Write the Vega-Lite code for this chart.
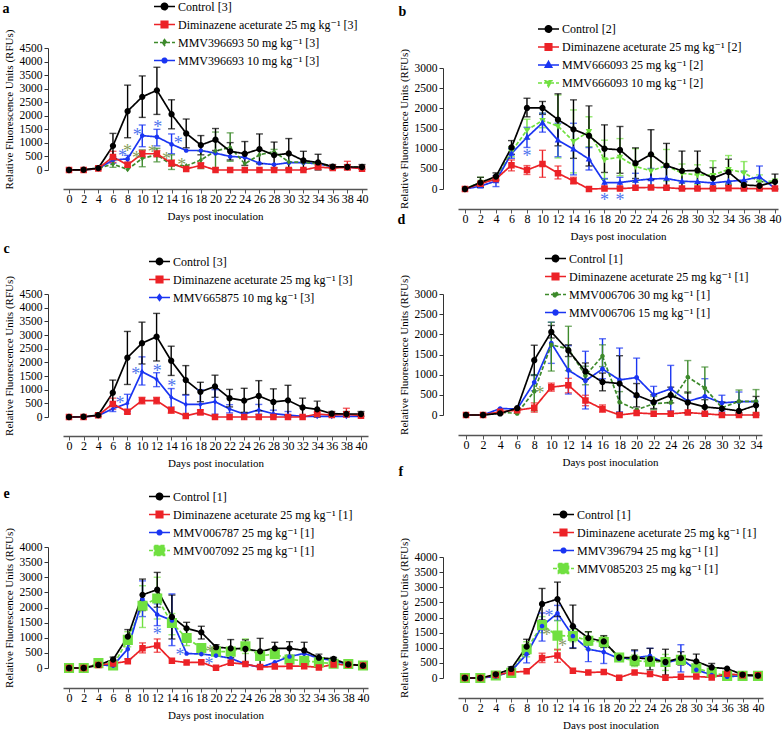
{
"$schema": "https://vega.github.io/schema/vega-lite/v6.json",
"background": "white",
"padding": {"left": 2, "top": -12, "right": 0, "bottom": 0},
"config": {
  "font": "Liberation Serif, Times New Roman, Times, DejaVu Serif, serif",
  "view": {"stroke": null},
  "axis": {"grid": false, "labelColor": "#000000", "titleColor": "#000000", "titleFontWeight": "normal", "labelFont": "Liberation Serif, Times New Roman, Times, DejaVu Serif, serif", "titleFont": "Liberation Serif, Times New Roman, Times, DejaVu Serif, serif"},
  "axisX": {"domainColor": "#555555", "domainWidth": 1.6, "tickColor": "#555555", "tickSize": 4, "tickWidth": 1, "labelPadding": 0.5, "titlePadding": 5.5, "labelFontSize": 12, "titleFontSize": 11, "labelOverlap": false, "labelFlush": false, "labelAngle": 0},
  "axisY": {"domainColor": "#333333", "domainWidth": 1, "tickColor": "#333333", "tickSize": 4, "labelPadding": 2, "titlePadding": 5, "labelFontSize": 11.5, "titleFontSize": 11, "labelOverlap": false},
  "legend": {"labelFont": "Liberation Serif, Times New Roman, Times, DejaVu Serif, serif", "labelFontSize": 12, "labelColor": "#000000", "labelLimit": 400, "padding": 0, "symbolSize": 441, "symbolStrokeWidth": 1.6, "labelOffset": 2, "symbolOpacity": 1}
},
"datasets": {
"series": [
 {"panel":"a","series":"MMV396693 10 mg kg⁻¹ [3]","day":[0,2,4,6,8,10,12,14,16,18,20,22,24,26,28,30,32,34,36,38,40],"rfu":[0,0,50,370,410,1270,1220,950,720,720,620,500,470,250,200,270,270,230,120,100,80],"lo":[null,null,null,250,280,860,890,600,null,null,null,null,null,null,null,null,null,null,null,null,null],"hi":[null,null,null,480,540,1660,1500,1330,null,null,null,null,null,null,null,null,null,null,null,null,null]},
 {"panel":"a","series":"MMV396693 50 mg kg⁻¹ [3]","day":[0,2,4,6,8,10,12,14,16,18,20,22,24,26,28,30,32,34,36,38,40],"rfu":[0,0,60,220,20,430,560,190,150,370,700,840,230,560,680,300,280,240,120,120,100],"lo":[null,null,null,100,null,120,300,20,null,50,80,320,null,null,600,null,null,null,null,null,null],"hi":[null,null,null,370,null,740,800,560,null,700,1400,1370,null,null,760,null,null,null,null,null,null]},
 {"panel":"a","series":"Diminazene aceturate 25 mg kg⁻¹ [3]","day":[0,2,4,6,8,10,12,14,16,18,20,22,24,26,28,30,32,34,36,38,40],"rfu":[0,0,60,480,190,600,600,250,40,170,0,0,0,0,0,0,0,110,70,100,50],"lo":[null,null,null,280,120,480,480,140,null,80,null,null,null,null,null,null,null,40,null,0,null],"hi":[null,null,null,690,260,720,720,370,null,260,null,null,null,null,null,null,null,180,null,320,null]},
 {"panel":"a","series":"Control [3]","day":[0,2,4,6,8,10,12,14,16,18,20,22,24,26,28,30,32,34,36,38,40],"rfu":[0,10,70,890,2170,2700,2940,2060,1350,920,1120,690,600,770,550,610,350,280,120,110,110],"lo":[null,null,20,420,1190,1940,2050,1520,820,560,720,370,170,230,80,60,20,0,40,30,30],"hi":[null,null,120,1350,3130,3470,3790,2590,1880,1270,1530,1010,1050,1330,1030,1160,690,580,200,200,200]},

 {"panel":"b","series":"MMV666093 10 mg kg⁻¹ [2]","day":[0,2,4,6,8,10,12,14,16,18,20,22,24,26,28,30,32,34,36,38,40],"rfu":[0,170,250,930,1460,1700,1560,1180,1430,730,790,560,450,580,390,350,340,490,400,180,200],"lo":[null,60,null,800,1240,1520,770,400,1050,240,330,170,60,200,160,120,0,150,100,0,null],"hi":[null,290,null,1050,1730,1880,2330,1960,1790,1210,1250,1000,850,980,620,600,700,830,680,350,null]},
 {"panel":"b","series":"MMV666093 25 mg kg⁻¹ [2]","day":[0,2,4,6,8,10,12,14,16,18,20,22,24,26,28,30,32,34,36,38,40],"rfu":[0,70,200,880,1280,1640,1210,990,740,160,160,210,250,260,190,180,150,190,220,300,20],"lo":[null,null,60,760,1030,1410,800,350,470,50,50,40,0,0,null,null,null,null,0,0,null],"hi":[null,null,330,1000,1530,1880,1630,1630,1030,260,290,390,510,540,null,null,null,null,440,570,null]},
 {"panel":"b","series":"Diminazene aceturate 25 mg kg⁻¹ [2]","day":[0,2,4,6,8,10,12,14,16,18,20,22,24,26,28,30,32,34,36,38,40],"rfu":[0,130,250,590,470,620,390,200,0,10,10,30,40,30,10,10,10,20,10,10,10],"lo":[null,null,null,450,360,290,250,130,null,null,null,null,null,null,null,null,null,null,null,null,null],"hi":[null,null,null,720,580,960,570,290,null,null,null,null,null,null,null,null,null,null,null,null,null]},
 {"panel":"b","series":"Control [2]","day":[0,2,4,6,8,10,12,14,16,18,20,22,24,26,28,30,32,34,36,38,40],"rfu":[0,160,310,1030,2010,2010,1720,1480,1320,1000,970,640,860,580,450,460,270,420,100,80,180],"lo":[null,40,220,860,1790,1850,1070,760,570,410,390,260,230,30,0,0,20,100,20,0,0],"hi":[null,290,400,1200,2250,2170,2360,2210,2060,1590,1550,1020,1470,1130,940,940,530,740,180,180,370]},

 {"panel":"c","series":"MMV665875 10 mg kg⁻¹ [3]","day":[0,2,4,6,8,10,12,14,16,18,20,22,24,26,28,30,32,34,36,38,40],"rfu":[0,0,50,300,500,1660,1380,720,460,460,560,290,110,260,120,70,20,20,20,20,20],"lo":[null,null,null,200,200,1170,1110,290,70,100,100,150,null,100,0,0,null,null,null,null,null],"hi":[null,null,null,420,830,2200,1620,1040,800,1000,1000,450,null,460,250,200,null,null,null,null,null]},
 {"panel":"c","series":"Diminazene aceturate 25 mg kg⁻¹ [3]","day":[0,2,4,6,8,10,12,14,16,18,20,22,24,26,28,30,32,34,36,38,40],"rfu":[0,0,60,480,190,600,600,250,40,170,0,0,0,0,0,0,0,110,70,100,50],"lo":[null,null,null,280,120,480,480,140,null,80,null,null,null,null,null,null,null,40,null,0,null],"hi":[null,null,null,690,260,720,720,370,null,260,null,null,null,null,null,null,null,180,null,320,null]},
 {"panel":"c","series":"Control [3]","day":[0,2,4,6,8,10,12,14,16,18,20,22,24,26,28,30,32,34,36,38,40],"rfu":[0,10,70,890,2170,2700,2940,2060,1350,920,1120,690,600,770,550,610,350,280,120,110,110],"lo":[null,null,20,420,1190,1940,2050,1520,820,560,720,370,170,230,80,60,20,0,40,30,30],"hi":[null,null,120,1350,3130,3470,3790,2590,1880,1270,1530,1010,1050,1330,1030,1160,690,580,200,200,200]},

 {"panel":"d","series":"MMV006706 15 mg kg⁻¹ [1]","day":[0,2,4,6,8,10,12,14,16,18,20,22,24,26,28,30,32,34],"rfu":[0,0,160,150,810,1780,1110,850,1140,870,930,500,650,340,460,300,330,330],"lo":[null,null,null,null,600,1280,520,150,900,80,450,300,100,null,0,100,50,null],"hi":[null,null,null,null,1000,2300,1720,1580,1890,1660,1410,710,1230,null,900,490,570,null]},
 {"panel":"d","series":"MMV006706 30 mg kg⁻¹ [1]","day":[0,2,4,6,8,10,12,14,16,18,20,22,24,26,28,30,32,34],"rfu":[0,0,70,40,590,1740,1640,980,1460,320,130,280,310,940,670,180,340,340],"lo":[null,null,null,null,100,1090,1100,750,1200,50,null,130,null,540,180,null,50,50],"hi":[null,null,null,null,1000,2300,2200,1210,1740,580,null,460,null,1350,1190,null,620,630]},
 {"panel":"d","series":"Diminazene aceturate 25 mg kg⁻¹ [1]","day":[0,2,4,6,8,10,12,14,16,18,20,22,24,26,28,30,32,34],"rfu":[0,0,80,120,180,690,740,360,150,0,50,30,30,60,30,0,0,0],"lo":[null,null,null,null,70,590,550,230,70,null,null,null,null,null,null,null,null,null],"hi":[null,null,null,null,300,790,910,490,250,null,null,null,null,null,null,null,null,null]},
 {"panel":"d","series":"Control [1]","day":[0,2,4,6,8,10,12,14,16,18,20,22,24,26,28,30,32,34],"rfu":[0,0,40,170,1360,2060,1600,1080,820,780,490,320,490,310,200,160,100,240],"lo":[null,null,null,null,980,1910,1450,880,600,50,200,160,300,50,50,20,0,0],"hi":[null,null,null,null,1730,2220,1740,1290,1040,1470,780,500,690,570,380,320,330,460]},

 {"panel":"e","series":"MMV007092 25 mg kg⁻¹ [1]","day":[0,2,4,6,8,10,12,14,16,18,20,22,24,26,28,30,32,34,36,38,40],"rfu":[0,0,160,80,930,2060,2300,1490,990,660,540,540,720,400,460,280,240,190,140,130,80],"lo":[null,null,null,null,700,1340,1620,1100,740,450,null,null,480,null,null,null,null,null,null,null,null],"hi":[null,null,null,null,1200,2720,3000,1800,1290,800,null,null,960,null,null,null,null,null,null,null,null]},
 {"panel":"e","series":"MMV006787 25 mg kg⁻¹ [1]","day":[0,2,4,6,8,10,12,14,16,18,20,22,24,26,28,30,32,34,36,38,40],"rfu":[0,0,100,80,630,2280,1770,1570,480,460,410,320,130,20,190,380,480,320,250,110,90],"lo":[null,null,null,null,300,1700,1400,740,null,null,null,null,null,null,null,null,null,null,null,null,null],"hi":[null,null,null,null,900,2880,2120,2450,null,null,null,null,null,null,null,null,null,null,null,null,null]},
 {"panel":"e","series":"Diminazene aceturate 25 mg kg⁻¹ [1]","day":[0,2,4,6,8,10,12,14,16,18,20,22,24,26,28,30,32,34,36,38,40],"rfu":[0,0,100,150,220,650,740,240,180,190,10,170,130,30,50,60,60,20,120,110,80],"lo":[null,null,null,null,null,500,520,null,null,null,null,null,null,null,null,null,null,null,null,null,null],"hi":[null,null,null,null,null,830,960,null,null,null,null,null,null,null,null,null,null,null,null,null,null]},
 {"panel":"e","series":"Control [1]","day":[0,2,4,6,8,10,12,14,16,18,20,22,24,26,28,30,32,34,36,38,40],"rfu":[0,0,100,280,1040,2420,2590,1690,1310,1180,690,650,630,550,650,650,580,340,300,120,80],"lo":[null,null,null,200,790,1900,2010,960,1120,960,600,340,190,80,460,420,300,220,250,null,null],"hi":[null,null,null,360,1270,2940,3160,2410,1510,1380,770,940,930,980,850,870,850,460,350,null,null]},

 {"panel":"f","series":"MMV085203 25 mg kg⁻¹ [1]","day":[0,2,4,6,8,10,12,14,16,18,20,22,24,26,28,30,34,36,38,40],"rfu":[0,0,80,170,950,1750,1400,1390,1230,1190,680,570,540,530,600,320,180,70,70,70],"lo":[null,null,null,null,700,1500,920,1200,950,1000,null,380,null,250,null,null,null,null,null,null],"hi":[null,null,null,null,1200,2030,1900,1600,1530,1380,null,760,null,780,null,null,null,null,null,null]},
 {"panel":"f","series":"MMV396794 25 mg kg⁻¹ [1]","day":[0,2,4,6,8,10,12,14,16,18,20,22,24,26,28,30,34,36,38,40],"rfu":[0,0,50,220,790,1720,2140,1390,950,860,640,670,730,490,640,270,100,40,80,70],"lo":[null,null,null,null,500,1220,1900,1000,540,480,null,500,480,null,200,null,null,null,null,null],"hi":[null,null,null,null,1050,2150,2400,1700,1310,1230,null,900,980,null,1100,null,null,null,null,null]},
 {"panel":"f","series":"Diminazene aceturate 25 mg kg⁻¹ [1]","day":[0,2,4,6,8,10,12,14,16,18,20,22,24,26,28,30,34,36,38,40],"rfu":[0,0,100,190,220,660,740,240,180,200,10,180,130,10,40,50,20,140,90,90],"lo":[null,null,null,null,null,510,520,null,null,null,null,null,null,null,null,null,null,null,null,null],"hi":[null,null,null,null,null,820,950,null,null,null,null,null,null,null,null,null,null,null,null,null]},
 {"panel":"f","series":"Control [1]","day":[0,2,4,6,8,10,12,14,16,18,20,22,24,26,28,30,34,36,38,40],"rfu":[0,0,120,300,1040,2450,2610,1710,1320,1210,680,670,630,530,660,550,350,310,110,80],"lo":[null,null,null,230,790,1920,2030,980,1100,1020,600,420,270,100,430,300,230,null,null,null],"hi":[null,null,null,370,1280,2960,3170,2410,1530,1400,760,930,980,950,870,790,480,null,null,null]}
],
"stars": [
 {"panel":"a","tone":"blue","day":7.3,"rfu":620},
 {"panel":"a","tone":"blue","day":9.3,"rfu":1390},
 {"panel":"a","tone":"blue","day":12.1,"rfu":1710},
 {"panel":"a","tone":"blue","day":14.9,"rfu":1120},
 {"panel":"a","tone":"green","day":8.0,"rfu":820},
 {"panel":"a","tone":"green","day":9.2,"rfu":560},
 {"panel":"a","tone":"green","day":11.35,"rfu":790},
 {"panel":"a","tone":"green","day":13.3,"rfu":530},
 {"panel":"a","tone":"green","day":15.4,"rfu":310},
 {"panel":"b","tone":"blue","day":8,"rfu":890},
 {"panel":"b","tone":"blue","day":18,"rfu":-190},
 {"panel":"b","tone":"blue","day":20,"rfu":-190},
 {"panel":"c","tone":"blue","day":7.0,"rfu":620},
 {"panel":"c","tone":"blue","day":9.13,"rfu":1680},
 {"panel":"c","tone":"blue","day":12.1,"rfu":1800},
 {"panel":"c","tone":"blue","day":14.06,"rfu":1230},
 {"panel":"d","tone":"green","day":8.67,"rfu":610},
 {"panel":"e","tone":"blue","day":12.0,"rfu":1220},
 {"panel":"e","tone":"blue","day":15.1,"rfu":520},
 {"panel":"e","tone":"blue","day":19.05,"rfu":240},
 {"panel":"e","tone":"green","day":19.2,"rfu":630},
 {"panel":"f","tone":"blue","day":10.9,"rfu":2160},
 {"panel":"f","tone":"green","day":10.6,"rfu":1530},
 {"panel":"f","tone":"green","day":12.66,"rfu":1150}
]
},
"columns": 2,
"align": "none",
"spacing": 23,
"resolve": {"scale": {"x": "independent", "y": "independent", "color": "independent", "stroke": "independent", "shape": "independent", "strokeDash": "independent"}, "axis": {"x": "independent", "y": "independent"}, "legend": {"color": "independent", "stroke": "independent", "shape": "independent", "strokeDash": "independent"}},
"concat": [
{
"spacing": 20,
"resolve": {"scale": {"x": "independent", "y": "independent", "color": "independent", "stroke": "independent", "shape": "independent", "strokeDash": "independent"}, "axis": {"x": "independent", "y": "independent"}, "legend": {"color": "independent", "stroke": "independent", "shape": "independent", "strokeDash": "independent"}},
"vconcat": [
{
 "width": 304, "height": 122,
 "resolve": {"axis": {"y": "independent"}},
 "encoding": {
  "x": {"field": "day", "type": "quantitative", "scale": {"domain": [-0.82, 40.68], "nice": false, "zero": false}, "axis": {"values": [0,2,4,6,8,10,12,14,16,18,20,22,24,26,28,30,32,34,36,38,40], "offset": 19, "title": "Days post inoculation"}},
  "y": {"field": "rfu", "type": "quantitative", "title": "Relative Fluorescence Units (RFUs)", "scale": {"domain": [0, 4500], "nice": false, "zero": false}, "axis": {"values": [0,500,1000,1500,2000,2500,3000,3500,4000,4500], "format": "d", "offset": 15}},
  "color": {"field": "series", "type": "nominal",
   "scale": {"domain": ["Control [3]", "Diminazene aceturate 25 mg kg⁻¹ [3]", "MMV396693 50 mg kg⁻¹ [3]", "MMV396693 10 mg kg⁻¹ [3]"], "range": ["#000000", "#ec2227", "#3d8a2b", "#1a35f2"]},
   "legend": {"title": null, "orient": "none", "legendX": 90, "legendY": -53, "rowPadding": -6}}
 },
 "layer": [
  {"data": {"name": "series"}, "transform": [{"filter": "datum.panel === 'a'"}, {"flatten": ["day", "rfu", "lo", "hi"]}],
   "layer": [
    {"mark": {"type": "line", "strokeWidth": 1.7}, "encoding": {"strokeDash": {"field": "series", "type": "nominal", "legend": {"title": null}, "scale": {"domain": ["Control [3]", "Diminazene aceturate 25 mg kg⁻¹ [3]", "MMV396693 50 mg kg⁻¹ [3]", "MMV396693 10 mg kg⁻¹ [3]"], "range": [[1,0],[1,0],[4,2],[1,0]]}}}},
    {"transform": [{"filter": "isValid(datum.hi)"}], "mark": {"type": "errorbar", "thickness": 1.4, "ticks": {"size": 7}}, "encoding": {"y": {"field": "lo", "type": "quantitative", "title": "Relative Fluorescence Units (RFUs)"}, "y2": {"field": "hi"}}},
    {"mark": {"type": "point", "filled": true, "opacity": 1, "size": 441}, "encoding": {
      "strokeWidth": {"value": 0},
      "stroke": {"field": "series", "type": "nominal", "legend": {"title": null}, "scale": {"domain": ["Control [3]", "Diminazene aceturate 25 mg kg⁻¹ [3]", "MMV396693 50 mg kg⁻¹ [3]", "MMV396693 10 mg kg⁻¹ [3]"], "range": ["#000000", "#ec2227", "#3d8a2b", "#1a35f2"]}},
      "shape": {"field": "series", "type": "nominal", "legend": {"title": null}, "scale": {"domain": ["Control [3]", "Diminazene aceturate 25 mg kg⁻¹ [3]", "MMV396693 50 mg kg⁻¹ [3]", "MMV396693 10 mg kg⁻¹ [3]"], "range": ["M-1,0L1,0M-0.3,0A0.3,0.3,0,1,0,0.3,0A0.3,0.3,0,1,0,-0.3,0Z", "M-1,0L1,0M-0.31,-0.31L0.31,-0.31L0.31,0.31L-0.31,0.31Z", "M-1,0L1,0M0,-0.27L0.2,0L0,0.27L-0.2,0Z", "M-1,0L1,0M-0.22,0A0.22,0.22,0,1,0,0.22,0A0.22,0.22,0,1,0,-0.22,0Z"]}}}}
   ]},
  {"data": {"name": "stars"}, "transform": [{"filter": "datum.panel === 'a' && datum.tone === 'blue'"}], "mark": {"type": "text", "text": "*", "fontSize": 18, "baseline": "middle", "dy": 4},
   "encoding": {"color": {"value": "#4f74ee"}, "y": {"field": "rfu", "type": "quantitative", "axis": {"orient": "left", "offset": 0, "domain": false, "ticks": false, "labels": false, "title": ["", "a"], "titleLineHeight": 13.7, "titleX": -61, "titleY": -49, "titleAngle": 0, "titleAlign": "left", "titleBaseline": "alphabetic", "titleFontSize": 14, "titleFontWeight": "bold"}}}},
  {"data": {"name": "stars"}, "transform": [{"filter": "datum.panel === 'a' && datum.tone === 'green'"}], "mark": {"type": "text", "text": "*", "fontSize": 18, "baseline": "middle", "dy": 4}, "encoding": {"color": {"value": "#86a05a"}, "y": {"field": "rfu", "type": "quantitative", "axis": null}}}
 ]
},
{
"spacing": 14,
"resolve": {"scale": {"x": "independent", "y": "independent", "color": "independent", "stroke": "independent", "shape": "independent", "strokeDash": "independent"}, "axis": {"x": "independent", "y": "independent"}, "legend": {"color": "independent", "stroke": "independent", "shape": "independent", "strokeDash": "independent"}},
"vconcat": [
{
 "width": 305, "height": 123,
 "resolve": {"axis": {"y": "independent"}},
 "encoding": {
  "x": {"field": "day", "type": "quantitative", "scale": {"domain": [-0.82, 40.96], "nice": false, "zero": false}, "axis": {"values": [0,2,4,6,8,10,12,14,16,18,20,22,24,26,28,30,32,34,36,38,40], "offset": 19, "title": "Days post inoculation"}},
  "y": {"field": "rfu", "type": "quantitative", "title": "Relative Fluorescence Units (RFUs)", "scale": {"domain": [0, 4500], "nice": false, "zero": false}, "axis": {"values": [0,500,1000,1500,2000,2500,3000,3500,4000,4500], "format": "d", "offset": 15}},
  "color": {"field": "series", "type": "nominal",
   "scale": {"domain": ["Control [3]", "Diminazene aceturate 25 mg kg⁻¹ [3]", "MMV665875 10 mg kg⁻¹ [3]"], "range": ["#000000", "#ec2227", "#1a35f2"]},
   "legend": {"title": null, "orient": "none", "legendX": 85, "legendY": -44, "rowPadding": -5.8}}
 },
 "layer": [
  {"data": {"name": "series"}, "transform": [{"filter": "datum.panel === 'c'"}, {"flatten": ["day", "rfu", "lo", "hi"]}],
   "layer": [
    {"mark": {"type": "line", "strokeWidth": 1.7}},
    {"transform": [{"filter": "isValid(datum.hi)"}], "mark": {"type": "errorbar", "thickness": 1.4, "ticks": {"size": 7}}, "encoding": {"y": {"field": "lo", "type": "quantitative", "title": "Relative Fluorescence Units (RFUs)"}, "y2": {"field": "hi"}}},
    {"mark": {"type": "point", "filled": true, "opacity": 1, "size": 441}, "encoding": {
      "strokeWidth": {"value": 0},
      "stroke": {"field": "series", "type": "nominal", "legend": {"title": null}, "scale": {"domain": ["Control [3]", "Diminazene aceturate 25 mg kg⁻¹ [3]", "MMV665875 10 mg kg⁻¹ [3]"], "range": ["#000000", "#ec2227", "#1a35f2"]}},
      "shape": {"field": "series", "type": "nominal", "legend": {"title": null}, "scale": {"domain": ["Control [3]", "Diminazene aceturate 25 mg kg⁻¹ [3]", "MMV665875 10 mg kg⁻¹ [3]"], "range": ["M-1,0L1,0M-0.3,0A0.3,0.3,0,1,0,0.3,0A0.3,0.3,0,1,0,-0.3,0Z", "M-1,0L1,0M-0.31,-0.31L0.31,-0.31L0.31,0.31L-0.31,0.31Z", "M-1,0L1,0M0,-0.27L0.2,0L0,0.27L-0.2,0Z"]}}}}
   ]},
  {"data": {"name": "stars"}, "transform": [{"filter": "datum.panel === 'c' && datum.tone === 'blue'"}], "mark": {"type": "text", "text": "*", "fontSize": 18, "baseline": "middle", "dy": 4},
   "encoding": {"color": {"value": "#4f74ee"}, "y": {"field": "rfu", "type": "quantitative", "axis": {"orient": "left", "offset": 0, "domain": false, "ticks": false, "labels": false, "title": "c", "titleX": -60, "titleY": -42, "titleAngle": 0, "titleAlign": "left", "titleBaseline": "alphabetic", "titleFontSize": 14, "titleFontWeight": "bold"}}}}
 ]
},
{
 "width": 305, "height": 121,
 "resolve": {"axis": {"y": "independent"}},
 "encoding": {
  "x": {"field": "day", "type": "quantitative", "scale": {"domain": [-0.82, 40.68], "nice": false, "zero": false}, "axis": {"values": [0,2,4,6,8,10,12,14,16,18,20,22,24,26,28,30,32,34,36,38,40], "offset": 20, "title": "Days post inoculation"}},
  "y": {"field": "rfu", "type": "quantitative", "title": "Relative Fluorescence Units (RFUs)", "scale": {"domain": [0, 4000], "nice": false, "zero": false}, "axis": {"values": [0,500,1000,1500,2000,2500,3000,3500,4000], "format": "d", "offset": 15}},
  "color": {"field": "series", "type": "nominal",
   "scale": {"domain": ["Control [1]", "Diminazene aceturate 25 mg kg⁻¹ [1]", "MMV006787 25 mg kg⁻¹ [1]", "MMV007092 25 mg kg⁻¹ [1]"], "range": ["#000000", "#ec2227", "#1a35f2", "#70e040"]},
   "legend": {"title": null, "orient": "none", "legendX": 85, "legendY": -62, "rowPadding": -3.5}}
 },
 "layer": [
  {"data": {"name": "series"}, "transform": [{"filter": "datum.panel === 'e'"}, {"flatten": ["day", "rfu", "lo", "hi"]}],
   "layer": [
    {"mark": {"type": "line", "strokeWidth": 1.7}, "encoding": {"strokeDash": {"field": "series", "type": "nominal", "legend": {"title": null}, "scale": {"domain": ["Control [1]", "Diminazene aceturate 25 mg kg⁻¹ [1]", "MMV006787 25 mg kg⁻¹ [1]", "MMV007092 25 mg kg⁻¹ [1]"], "range": [[1,0],[1,0],[1,0],[4,2]]}}}},
    {"transform": [{"filter": "isValid(datum.hi)"}], "mark": {"type": "errorbar", "thickness": 1.4, "ticks": {"size": 7}}, "encoding": {"y": {"field": "lo", "type": "quantitative", "title": "Relative Fluorescence Units (RFUs)"}, "y2": {"field": "hi"}}},
    {"mark": {"type": "point", "filled": true, "opacity": 1, "size": 441}, "encoding": {
      "strokeWidth": {"value": 0},
      "stroke": {"field": "series", "type": "nominal", "legend": {"title": null}, "scale": {"domain": ["Control [1]", "Diminazene aceturate 25 mg kg⁻¹ [1]", "MMV006787 25 mg kg⁻¹ [1]", "MMV007092 25 mg kg⁻¹ [1]"], "range": ["#000000", "#ec2227", "#1a35f2", "#70e040"]}},
      "shape": {"field": "series", "type": "nominal", "legend": {"title": null}, "scale": {"domain": ["Control [1]", "Diminazene aceturate 25 mg kg⁻¹ [1]", "MMV006787 25 mg kg⁻¹ [1]", "MMV007092 25 mg kg⁻¹ [1]"], "range": ["M-1,0L1,0M-0.3,0A0.3,0.3,0,1,0,0.3,0A0.3,0.3,0,1,0,-0.3,0Z", "M-1,0L1,0M-0.31,-0.31L0.31,-0.31L0.31,0.31L-0.31,0.31Z", "M-1,0L1,0M-0.22,0A0.22,0.22,0,1,0,0.22,0A0.22,0.22,0,1,0,-0.22,0Z", "M-1,0L1,0M-0.48,-0.48L0.48,-0.48L0.48,0.48L-0.48,0.48Z"]}}}}
   ]},
  {"data": {"name": "stars"}, "transform": [{"filter": "datum.panel === 'e' && datum.tone === 'blue'"}], "mark": {"type": "text", "text": "*", "fontSize": 18, "baseline": "middle", "dy": 4},
   "encoding": {"color": {"value": "#4f74ee"}, "y": {"field": "rfu", "type": "quantitative", "axis": {"orient": "left", "offset": 0, "domain": false, "ticks": false, "labels": false, "title": ["", "e"], "titleLineHeight": 4, "titleX": -60, "titleY": -54, "titleAngle": 0, "titleAlign": "left", "titleBaseline": "alphabetic", "titleFontSize": 14, "titleFontWeight": "bold"}}}},
  {"data": {"name": "stars"}, "transform": [{"filter": "datum.panel === 'e' && datum.tone === 'green'"}], "mark": {"type": "text", "text": "*", "fontSize": 18, "baseline": "middle", "dy": 4}, "encoding": {"color": {"value": "#8a9a6a"}, "y": {"field": "rfu", "type": "quantitative", "axis": null}}}
 ]
}
]
}
]
},
{
"spacing": -29,
"resolve": {"scale": {"x": "independent", "y": "independent", "color": "independent", "stroke": "independent", "shape": "independent", "strokeDash": "independent"}, "axis": {"x": "independent", "y": "independent"}, "legend": {"color": "independent", "stroke": "independent", "shape": "independent", "strokeDash": "independent"}},
"vconcat": [
{
 "width": 320, "height": 141,
 "resolve": {"axis": {"y": "independent"}},
 "encoding": {
  "x": {"field": "day", "type": "quantitative", "scale": {"domain": [-0.9, 40.39], "nice": false, "zero": false}, "axis": {"values": [0,2,4,6,8,10,12,14,16,18,20,22,24,26,28,30,32,34,36,38,40], "offset": 20, "title": "Days post inoculation"}},
  "y": {"field": "rfu", "type": "quantitative", "title": "Relative Fluorescence Units (RFUs)", "scale": {"domain": [0, 3000], "range": [141, 20], "nice": false, "zero": false}, "axis": {"values": [0,500,1000,1500,2000,2500,3000], "format": "d", "offset": 15}},
  "color": {"field": "series", "type": "nominal",
   "scale": {"domain": ["Control [2]", "Diminazene aceturate 25 mg kg⁻¹ [2]", "MMV666093 25 mg kg⁻¹ [2]", "MMV666093 10 mg kg⁻¹ [2]"], "range": ["#000000", "#ec2227", "#1a35f2", "#70e040"]},
   "legend": {"title": null, "orient": "none", "legendX": 79, "legendY": -30.5, "rowPadding": -4.5}}
 },
 "layer": [
  {"data": {"name": "series"}, "transform": [{"filter": "datum.panel === 'b'"}, {"flatten": ["day", "rfu", "lo", "hi"]}],
   "layer": [
    {"mark": {"type": "line", "strokeWidth": 1.7}, "encoding": {"strokeDash": {"field": "series", "type": "nominal", "legend": {"title": null}, "scale": {"domain": ["Control [2]", "Diminazene aceturate 25 mg kg⁻¹ [2]", "MMV666093 25 mg kg⁻¹ [2]", "MMV666093 10 mg kg⁻¹ [2]"], "range": [[1,0],[1,0],[1,0],[4,2]]}}}},
    {"transform": [{"filter": "isValid(datum.hi)"}], "mark": {"type": "errorbar", "thickness": 1.4, "ticks": {"size": 7}}, "encoding": {"y": {"field": "lo", "type": "quantitative", "title": "Relative Fluorescence Units (RFUs)"}, "y2": {"field": "hi"}}},
    {"mark": {"type": "point", "filled": true, "opacity": 1, "size": 441}, "encoding": {
      "strokeWidth": {"value": 0},
      "stroke": {"field": "series", "type": "nominal", "legend": {"title": null}, "scale": {"domain": ["Control [2]", "Diminazene aceturate 25 mg kg⁻¹ [2]", "MMV666093 25 mg kg⁻¹ [2]", "MMV666093 10 mg kg⁻¹ [2]"], "range": ["#000000", "#ec2227", "#1a35f2", "#70e040"]}},
      "shape": {"field": "series", "type": "nominal", "legend": {"title": null}, "scale": {"domain": ["Control [2]", "Diminazene aceturate 25 mg kg⁻¹ [2]", "MMV666093 25 mg kg⁻¹ [2]", "MMV666093 10 mg kg⁻¹ [2]"], "range": ["M-1,0L1,0M-0.3,0A0.3,0.3,0,1,0,0.3,0A0.3,0.3,0,1,0,-0.3,0Z", "M-1,0L1,0M-0.31,-0.31L0.31,-0.31L0.31,0.31L-0.31,0.31Z", "M-1,0L1,0M0,-0.34L0.31,0.22L-0.31,0.22Z", "M-1,0L1,0M0,0.34L0.31,-0.22L-0.31,-0.22Z"]}}}}
   ]},
  {"data": {"name": "stars"}, "transform": [{"filter": "datum.panel === 'b' && datum.tone === 'blue'"}], "mark": {"type": "text", "text": "*", "fontSize": 18, "baseline": "middle", "dy": 4},
   "encoding": {"color": {"value": "#4f74ee"}, "y": {"field": "rfu", "type": "quantitative", "axis": {"orient": "left", "offset": 0, "domain": false, "ticks": false, "labels": false, "title": ["", "b"], "titleLineHeight": 16, "titleX": -60, "titleY": -49, "titleAngle": 0, "titleAlign": "left", "titleBaseline": "alphabetic", "titleFontSize": 14, "titleFontWeight": "bold"}}}}
 ]
},
{
"spacing": -3,
"resolve": {"scale": {"x": "independent", "y": "independent", "color": "independent", "stroke": "independent", "shape": "independent", "strokeDash": "independent"}, "axis": {"x": "independent", "y": "independent"}, "legend": {"color": "independent", "stroke": "independent", "shape": "independent", "strokeDash": "independent"}},
"vconcat": [
{
 "width": 304, "height": 121,
 "resolve": {"axis": {"y": "independent"}},
 "encoding": {
  "x": {"field": "day", "type": "quantitative", "scale": {"domain": [-0.94, 34.7], "nice": false, "zero": false}, "axis": {"values": [0,2,4,6,8,10,12,14,16,18,20,22,24,26,28,30,32,34], "offset": 20, "title": "Days post inoculation"}},
  "y": {"field": "rfu", "type": "quantitative", "title": "Relative Fluorescence Units (RFUs)", "scale": {"domain": [0, 3000], "nice": false, "zero": false}, "axis": {"values": [0,500,1000,1500,2000,2500,3000], "format": "d", "offset": 15}},
  "color": {"field": "series", "type": "nominal",
   "scale": {"domain": ["Control [1]", "Diminazene aceturate 25 mg kg⁻¹ [1]", "MMV006706 30 mg kg⁻¹ [1]", "MMV006706 15 mg kg⁻¹ [1]"], "range": ["#000000", "#ec2227", "#3d8a2b", "#1a35f2"]},
   "legend": {"title": null, "orient": "none", "legendX": 86, "legendY": -47, "rowPadding": -5.7}}
 },
 "layer": [
  {"data": {"name": "series"}, "transform": [{"filter": "datum.panel === 'd'"}, {"flatten": ["day", "rfu", "lo", "hi"]}],
   "layer": [
    {"mark": {"type": "line", "strokeWidth": 1.7}, "encoding": {"strokeDash": {"field": "series", "type": "nominal", "legend": {"title": null}, "scale": {"domain": ["Control [1]", "Diminazene aceturate 25 mg kg⁻¹ [1]", "MMV006706 30 mg kg⁻¹ [1]", "MMV006706 15 mg kg⁻¹ [1]"], "range": [[1,0],[1,0],[4,2],[1,0]]}}}},
    {"transform": [{"filter": "isValid(datum.hi)"}], "mark": {"type": "errorbar", "thickness": 1.4, "ticks": {"size": 7}}, "encoding": {"y": {"field": "lo", "type": "quantitative", "title": "Relative Fluorescence Units (RFUs)"}, "y2": {"field": "hi"}}},
    {"mark": {"type": "point", "filled": true, "opacity": 1, "size": 441}, "encoding": {
      "strokeWidth": {"value": 0},
      "stroke": {"field": "series", "type": "nominal", "legend": {"title": null}, "scale": {"domain": ["Control [1]", "Diminazene aceturate 25 mg kg⁻¹ [1]", "MMV006706 30 mg kg⁻¹ [1]", "MMV006706 15 mg kg⁻¹ [1]"], "range": ["#000000", "#ec2227", "#3d8a2b", "#1a35f2"]}},
      "shape": {"field": "series", "type": "nominal", "legend": {"title": null}, "scale": {"domain": ["Control [1]", "Diminazene aceturate 25 mg kg⁻¹ [1]", "MMV006706 30 mg kg⁻¹ [1]", "MMV006706 15 mg kg⁻¹ [1]"], "range": ["M-1,0L1,0M-0.3,0A0.3,0.3,0,1,0,0.3,0A0.3,0.3,0,1,0,-0.3,0Z", "M-1,0L1,0M-0.31,-0.31L0.31,-0.31L0.31,0.31L-0.31,0.31Z", "M-1,0L1,0M-0.22,0A0.22,0.22,0,1,0,0.22,0A0.22,0.22,0,1,0,-0.22,0Z", "M-1,0L1,0M-0.23,0A0.23,0.23,0,1,0,0.23,0A0.23,0.23,0,1,0,-0.23,0Z"]}}}}
   ]},
  {"data": {"name": "stars"}, "transform": [{"filter": "datum.panel === 'd' && datum.tone === 'green'"}], "mark": {"type": "text", "text": "*", "fontSize": 18, "baseline": "middle", "dy": 4},
   "encoding": {"color": {"value": "#7fa34f"}, "y": {"field": "rfu", "type": "quantitative", "axis": {"orient": "left", "offset": 0, "domain": false, "ticks": false, "labels": false, "title": "d", "titleX": -61, "titleY": -71, "titleAngle": 0, "titleAlign": "left", "titleBaseline": "alphabetic", "titleFontSize": 14, "titleFontWeight": "bold"}}}}
 ]
},
{
 "width": 305, "height": 121,
 "resolve": {"axis": {"y": "independent"}},
 "encoding": {
  "x": {"field": "day", "type": "quantitative", "scale": {"domain": [-0.9, 30, 34, 40.65], "range": [0, 238.3, 253.7, 305], "nice": false, "zero": false}, "axis": {"values": [0,2,4,6,8,10,12,14,16,18,20,22,24,26,28,30,34,36,38,40], "offset": 20, "title": "Days post inoculation"}},
  "y": {"field": "rfu", "type": "quantitative", "title": "Relative Fluorescence Units (RFUs)", "scale": {"domain": [0, 4000], "nice": false, "zero": false}, "axis": {"values": [0,500,1000,1500,2000,2500,3000,3500,4000], "format": "d", "offset": 15}},
  "color": {"field": "series", "type": "nominal",
   "scale": {"domain": ["Control [1]", "Diminazene aceturate 25 mg kg⁻¹ [1]", "MMV396794 25 mg kg⁻¹ [1]", "MMV085203 25 mg kg⁻¹ [1]"], "range": ["#000000", "#ec2227", "#1a35f2", "#70e040"]},
   "legend": {"title": null, "orient": "none", "legendX": 94, "legendY": -54, "rowPadding": -3.5}}
 },
 "layer": [
  {"data": {"name": "series"}, "transform": [{"filter": "datum.panel === 'f'"}, {"flatten": ["day", "rfu", "lo", "hi"]}],
   "layer": [
    {"mark": {"type": "line", "strokeWidth": 1.7}, "encoding": {"strokeDash": {"field": "series", "type": "nominal", "legend": {"title": null}, "scale": {"domain": ["Control [1]", "Diminazene aceturate 25 mg kg⁻¹ [1]", "MMV396794 25 mg kg⁻¹ [1]", "MMV085203 25 mg kg⁻¹ [1]"], "range": [[1,0],[1,0],[1,0],[4,2]]}}}},
    {"transform": [{"filter": "isValid(datum.hi)"}], "mark": {"type": "errorbar", "thickness": 1.4, "ticks": {"size": 7}}, "encoding": {"y": {"field": "lo", "type": "quantitative", "title": "Relative Fluorescence Units (RFUs)"}, "y2": {"field": "hi"}}},
    {"mark": {"type": "point", "filled": true, "opacity": 1, "size": 441}, "encoding": {
      "strokeWidth": {"value": 0},
      "stroke": {"field": "series", "type": "nominal", "legend": {"title": null}, "scale": {"domain": ["Control [1]", "Diminazene aceturate 25 mg kg⁻¹ [1]", "MMV396794 25 mg kg⁻¹ [1]", "MMV085203 25 mg kg⁻¹ [1]"], "range": ["#000000", "#ec2227", "#1a35f2", "#70e040"]}},
      "shape": {"field": "series", "type": "nominal", "legend": {"title": null}, "scale": {"domain": ["Control [1]", "Diminazene aceturate 25 mg kg⁻¹ [1]", "MMV396794 25 mg kg⁻¹ [1]", "MMV085203 25 mg kg⁻¹ [1]"], "range": ["M-1,0L1,0M-0.3,0A0.3,0.3,0,1,0,0.3,0A0.3,0.3,0,1,0,-0.3,0Z", "M-1,0L1,0M-0.31,-0.31L0.31,-0.31L0.31,0.31L-0.31,0.31Z", "M-1,0L1,0M-0.22,0A0.22,0.22,0,1,0,0.22,0A0.22,0.22,0,1,0,-0.22,0Z", "M-1,0L1,0M-0.48,-0.48L0.48,-0.48L0.48,0.48L-0.48,0.48Z"]}}}}
   ]},
  {"data": {"name": "stars"}, "transform": [{"filter": "datum.panel === 'f' && datum.tone === 'blue'"}], "mark": {"type": "text", "text": "*", "fontSize": 18, "baseline": "middle", "dy": 4},
   "encoding": {"color": {"value": "#4f74ee"}, "y": {"field": "rfu", "type": "quantitative", "axis": {"orient": "left", "offset": 0, "domain": false, "ticks": false, "labels": false, "title": "f", "titleX": -60, "titleY": -82, "titleAngle": 0, "titleAlign": "left", "titleBaseline": "alphabetic", "titleFontSize": 14, "titleFontWeight": "bold"}}}},
  {"data": {"name": "stars"}, "transform": [{"filter": "datum.panel === 'f' && datum.tone === 'green'"}], "mark": {"type": "text", "text": "*", "fontSize": 18, "baseline": "middle", "dy": 4}, "encoding": {"color": {"value": "#8a9a6a"}, "y": {"field": "rfu", "type": "quantitative", "axis": null}}}
 ]
}
]
}
]
}
]
}
